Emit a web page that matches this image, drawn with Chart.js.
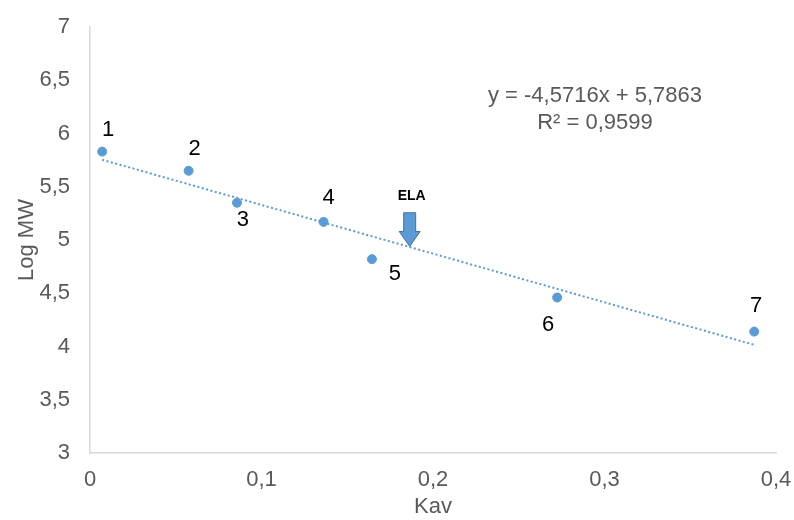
<!DOCTYPE html>
<html>
<head>
<meta charset="utf-8">
<script src="https://cdn.jsdelivr.net/npm/chart.js@4/dist/chart.umd.min.js"></script>
<style>
  html, body { margin: 0; padding: 0; background: #ffffff; }
  #wrap { width: 794px; height: 520px; }
</style>
</head>
<body>
<div id="wrap"><canvas id="chart" width="794" height="520"></canvas></div>
<script>
// Calibration standards: partition coefficient (Kav) vs log molecular weight
const standardIds = ['1', '2', '3', '4', '5', '6', '7'];
const kavValues = [0.0071, 0.0575, 0.0857, 0.1362, 0.1644, 0.2724, 0.3873];
const logMwValues = [5.83, 5.65, 5.35, 5.17, 4.82, 4.46, 4.14];

// Linear fit reported on the chart
const fitSlope = -4.5716;
const fitIntercept = 5.7863;
const fitR2 = 0.9599;

// Elution position of the ELA sample (arrow tail, head base, tip on Log MW scale)
const elaLabel = 'ELA';
const elaKav = 0.1864;
const elaArrowTop = 5.256;
const elaArrowHeadBase = 5.08;
const elaArrowTip = 4.94;

// Axis ranges
const xMin = 0, xMax = 0.4, xStep = 0.1;
const yMin = 3, yMax = 7, yStep = 0.5;

const fmtComma = v => String(Math.round(v * 1000) / 1000).replace('.', ',');
const fmtFixed4 = v => v.toFixed(4).replace('.', ',');

const points = kavValues.map((x, i) => ({ x: x, y: logMwValues[i] }));
const xFirst = kavValues[0], xLast = kavValues[kavValues.length - 1];
const trendPoints = [
  { x: xFirst, y: fitSlope * xFirst + fitIntercept },
  { x: xLast, y: fitSlope * xLast + fitIntercept }
];

const blue = '#5b9bd5';
const textGrey = '#595959';
const fontFamily = '"Liberation Sans", Arial, sans-serif';

// Label offsets (px) relative to each marker
const labelOffsets = [[6, -22], [6, -22], [6, 17], [5, -24], [23, 15], [-9, 27], [2, -26]];

const overlayPlugin = {
  id: 'overlay',
  afterDatasetsDraw(chart) {
    const ctx = chart.ctx;
    const xs = chart.scales.x, ys = chart.scales.y;
    ctx.save();

    // point numbers
    ctx.font = '22px ' + fontFamily;
    ctx.fillStyle = '#000000';
    ctx.textAlign = 'center';
    ctx.textBaseline = 'middle';
    standardIds.forEach((id, i) => {
      const px = xs.getPixelForValue(kavValues[i]) + labelOffsets[i][0];
      const py = ys.getPixelForValue(logMwValues[i]) + labelOffsets[i][1];
      ctx.fillText(id, px, py);
    });

    // regression equation
    ctx.fillStyle = textGrey;
    ctx.font = '22px ' + fontFamily;
    const eqX = 595;
    const sign = fitIntercept >= 0 ? '+' : '-';
    ctx.fillText('y = ' + fmtFixed4(fitSlope) + 'x ' + sign + ' ' + fmtFixed4(Math.abs(fitIntercept)), eqX, 96);
    ctx.fillText('R\u00b2 = ' + fmtFixed4(fitR2), eqX, 123);

    // ELA arrow
    const ax = xs.getPixelForValue(elaKav);
    const aTop = ys.getPixelForValue(elaArrowTop);
    const aBase = ys.getPixelForValue(elaArrowHeadBase);
    const aTip = ys.getPixelForValue(elaArrowTip);
    const shaftHalf = 6, headHalf = 10.5;
    ctx.beginPath();
    ctx.moveTo(ax - shaftHalf, aTop);
    ctx.lineTo(ax + shaftHalf, aTop);
    ctx.lineTo(ax + shaftHalf, aBase);
    ctx.lineTo(ax + headHalf, aBase);
    ctx.lineTo(ax, aTip);
    ctx.lineTo(ax - headHalf, aBase);
    ctx.lineTo(ax - shaftHalf, aBase);
    ctx.closePath();
    ctx.fillStyle = blue;
    ctx.fill();
    ctx.lineWidth = 1;
    ctx.strokeStyle = '#41719c';
    ctx.stroke();

    ctx.fillStyle = '#000000';
    ctx.font = 'bold 14px ' + fontFamily;
    ctx.fillText(elaLabel, ax + 2, aTop - 17);

    ctx.restore();
  }
};

new Chart(document.getElementById('chart'), {
  type: 'scatter',
  data: {
    datasets: [
      {
        type: 'line',
        label: 'Linear fit',
        data: trendPoints,
        borderColor: blue,
        borderWidth: 2,
        borderDash: [2, 2.5],
        pointRadius: 0,
        fill: false,
        order: 2
      },
      {
        label: 'Standards',
        data: points,
        backgroundColor: blue,
        borderColor: blue,
        pointRadius: 4.5,
        pointHoverRadius: 4.5,
        order: 1
      }
    ]
  },
  options: {
    responsive: false,
    animation: false,
    events: [],
    layout: { padding: { top: 27, right: 18, bottom: 0, left: 0 } },
    plugins: {
      legend: { display: false },
      tooltip: { enabled: false }
    },
    scales: {
      x: {
        type: 'linear',
        min: xMin, max: xMax,
        grid: { display: false, drawTicks: false, tickLength: 0 },
        border: { display: true, color: '#d9d9d9', width: 1.5 },
        ticks: {
          stepSize: xStep,
          color: textGrey,
          font: { family: fontFamily, size: 22 },
          padding: 14,
          maxRotation: 0,
          callback: v => fmtComma(v)
        },
        title: {
          display: true,
          text: 'Kav',
          color: textGrey,
          font: { family: fontFamily, size: 22 },
          padding: { top: 0, bottom: 0 }
        },
        afterFit(scale) {
          scale.height = 67;
          scale.paddingLeft = 0;
          scale.paddingRight = 0;
        }
      },
      y: {
        type: 'linear',
        min: yMin, max: yMax,
        grid: { display: false, drawTicks: false, tickLength: 0 },
        border: { display: true, color: '#d9d9d9', width: 1.5 },
        ticks: {
          stepSize: yStep,
          color: textGrey,
          font: { family: fontFamily, size: 22 },
          padding: 20,
          callback: v => fmtComma(v)
        },
        title: {
          display: true,
          text: 'Log MW',
          color: textGrey,
          font: { family: fontFamily, size: 22 },
          padding: { top: 14, bottom: 0 }
        },
        afterFit(scale) {
          scale.width = 90;
          scale.paddingTop = 0;
          scale.paddingBottom = 0;
        }
      }
    }
  },
  plugins: [overlayPlugin]
});
</script>
</body>
</html>
